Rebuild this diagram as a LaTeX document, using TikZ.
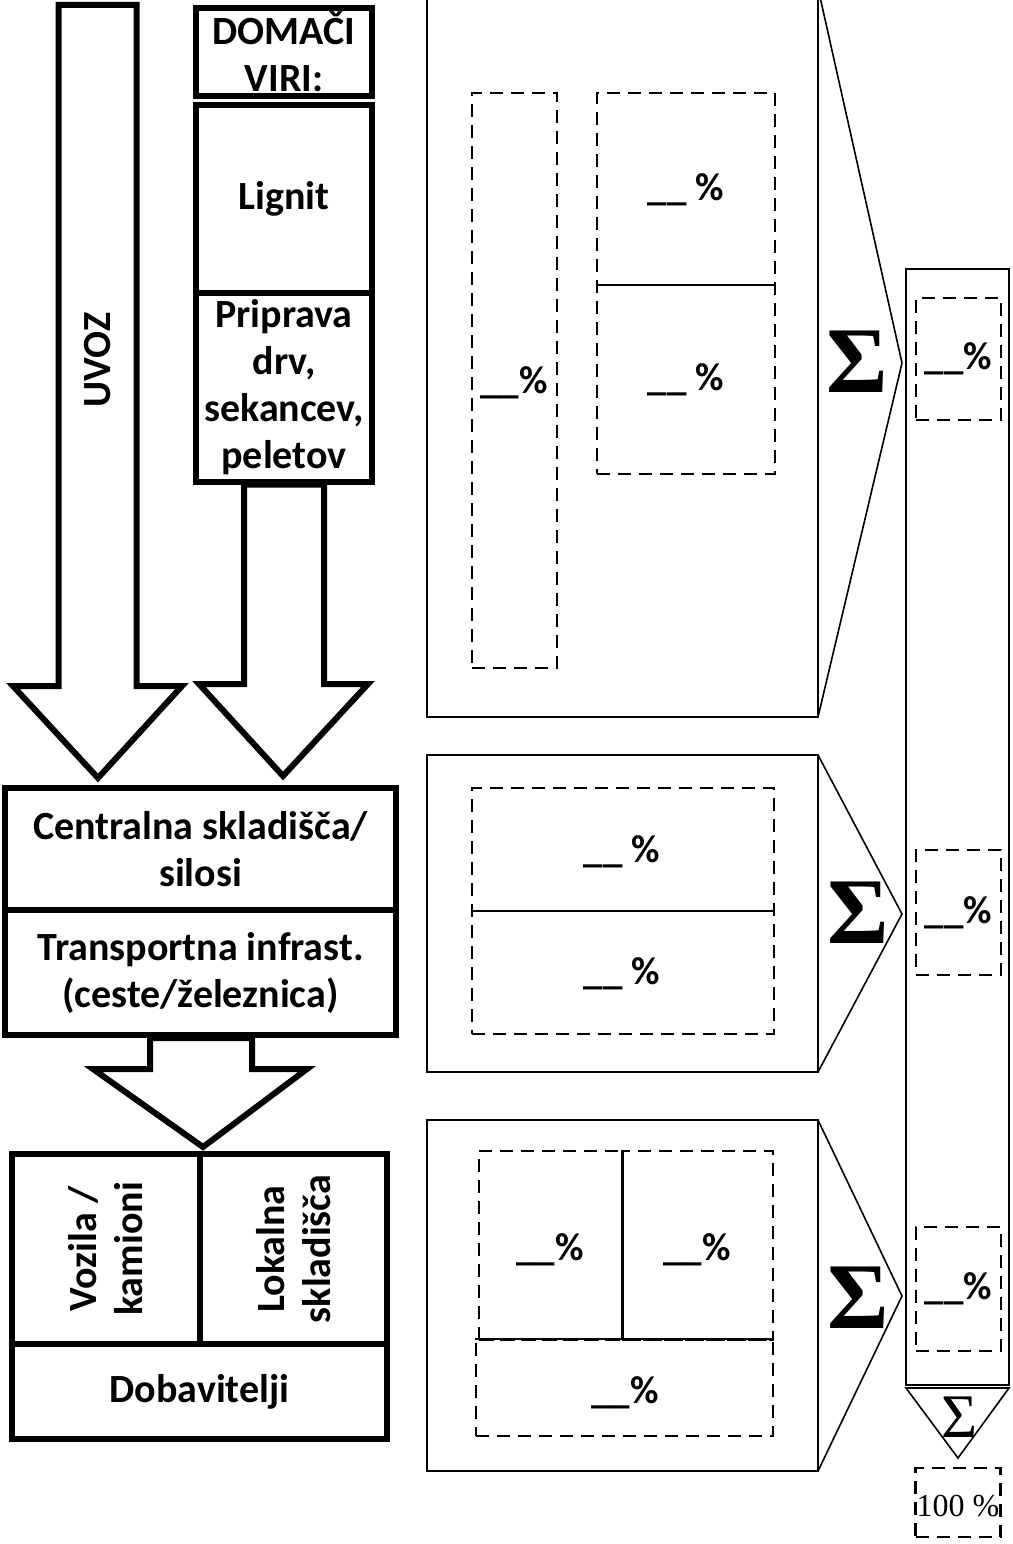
\documentclass[tikz,border=0pt]{standalone}
\usepackage{fontspec}
\setmainfont{Carlito}
\newfontfamily\sigmafont{Liberation Serif}
\usetikzlibrary{calc}
\begin{document}
\begin{tikzpicture}[x=1pt,y=-1pt,
  heavy/.style={draw,line width=6pt,inner sep=0pt,line join=miter,
    font=\fontsize{40}{47}\selectfont\bfseries,align=center},
  label40/.style={inner sep=0pt,font=\fontsize{40}{46}\selectfont\bfseries,align=center},
  blockarrow/.style={draw,line width=6pt,fill=white,line join=miter},
  panel/.style={draw,line width=1.6pt,line join=miter},
  dashbox/.style={draw,dash pattern=on 13pt off 8pt,line width=2.5pt,inner sep=0pt,
    font=\fontsize{39}{46}\selectfont\bfseries},
  divider/.style={draw,line width=2pt},
  pct/.style={inner sep=0pt,font=\fontsize{39}{46}\selectfont\bfseries},
  sig/.style={inner sep=0pt,font=\sigmafont\fontsize{94}{94}\selectfont\bfseries},
  sigsmall/.style={inner sep=0pt,font=\sigmafont\fontsize{62}{62}\selectfont},
  hundred/.style={inner sep=0pt,font=\sigmafont\fontsize{32}{32}\selectfont}
]
\useasboundingbox (0,0) rectangle (1012,1544);
\begin{scope}
\clip (0,0) rectangle (1012,1544);

% ---------- left chain: sources, storage, distribution ----------
\node[heavy,minimum width=176.5pt,minimum height=88pt] (dom) at (284,52) {DOMAČI\\VIRI:};
\node[heavy,minimum width=176.5pt,minimum height=188pt] (lig) at (284,199) {Lignit};
\node[heavy,minimum width=176.5pt,minimum height=188.5pt] (prip) at (284,387.25)
  {Priprava\\drv,\\sekancev,\\peletov};

\node[heavy,minimum width=391pt,minimum height=122pt] (cent) at (200.5,849)
  {Centralna skladišča/\\silosi};
\node[heavy,minimum width=391pt,minimum height=125pt] (trans) at (200.5,972.5)
  {Transportna infrast.\\(ceste/železnica)};

% import arrow (free tail at the top edge)
\coordinate (uvoztail) at (98,5);
\draw[blockarrow] ($(uvoztail)+(-39.5,0)$) -- ($(uvoztail)+(38.5,0)$)
  -- (136.5,686) -- (182,686) -- ($(cent.north -| uvoztail)+(0,-7)$)
  -- (13,686) -- (58.5,686) -- cycle;
\node[label40,rotate=90] (uvoz) at (98,360) {UVOZ};

% domestic arrow
\draw[blockarrow] (prip.south -| 244,0) -- (244,684) -- (199,684)
  -- ($(cent.north -| 283,0)+(0,-9)$) -- (368,684) -- (324,684)
  -- (prip.south -| 324,0) -- cycle;

% storage to local distribution arrow
\node[heavy,minimum width=188pt,minimum height=190pt] (voz) at (106,1249) {};
\node[heavy,minimum width=187pt,minimum height=190pt] (lok) at (293.5,1249) {};
\node[heavy,minimum width=375pt,minimum height=95pt] (dob) at (199.5,1391.5) {Dobavitelji};
\draw[blockarrow] (trans.south -| 150,0) -- (150,1069) -- (93,1069)
  -- ($(voz.north east)+(0,-4)$) -- (307,1069) -- (252,1069)
  -- (trans.south -| 252,0) -- cycle;
\node[label40,rotate=90] (vozt) at (voz.center) {Vozila /\\kamioni};
\node[label40,rotate=90] (lokt) at (lok.center) {Lokalna\\skladišča};

% ---------- right: share panels ----------
% panel 1
\draw[panel] (818,-12) -- (427,-12) -- (427,717) -- (818,717) -- cycle;
\coordinate (tip1) at (902,363);
\draw[panel] (818,-12) -- (tip1) -- (818,717);
\node[sig] (s1) at (857,362) {Σ};
\node[dashbox,minimum width=85pt,minimum height=575pt] (p1a) at (514.5,380.5) {};
\node[pct] (p1at) at (514,383) {\_\_\%};
\node[dashbox,minimum width=178pt,minimum height=381pt] (p1b) at (686,283.5) {};
\draw[divider] ($(p1b.west)+(0,1)$) -- ($(p1b.east)+(0,1)$);
\node[pct] (p1bt) at (686,190) {\_\_ \%};
\node[pct] (p1ct) at (686,380) {\_\_ \%};

% panel 2
\draw[panel] (427,755) rectangle (818,1072);
\coordinate (tip2) at (902,914);
\draw[panel] (818,755) -- (tip2) -- (818,1072);
\node[sig] (s2) at (858,913) {Σ};
\node[dashbox,minimum width=302pt,minimum height=246pt] (p2) at (623,911) {};
\draw[divider] (p2.west) -- (p2.east);
\node[pct] (p2at) at (622,852) {\_\_ \%};
\node[pct] (p2bt) at (622,974) {\_\_ \%};

% panel 3
\draw[panel] (427,1120) rectangle (818,1471);
\coordinate (tip3) at (902,1296);
\draw[panel] (818,1120) -- (tip3) -- (818,1471);
\node[sig] (s3) at (858,1298) {Σ};
\node[dashbox,minimum width=143pt,minimum height=189pt] (p3a) at (550.5,1245.5) {};
\node[dashbox,minimum width=151pt,minimum height=189pt] (p3b) at (697.5,1245.5) {};
\node[dashbox,minimum width=297pt,minimum height=96pt] (p3c) at (624.5,1388) {};
\draw[divider] (p3a.north east) -- (p3a.south east);
\draw[divider] (p3c.north west) -- (p3c.north east);
\node[pct] (p3at) at (550,1250) {\_\_\%};
\node[pct] (p3bt) at (697,1250) {\_\_\%};
\node[pct] (p3ct) at (625,1393) {\_\_\%};

% ---------- summary column ----------
\draw[line width=2.5pt] (906,269) rectangle (1009,1385);
\node[dashbox,minimum width=85pt,minimum height=122pt] (c1) at (958.5,359) {\_\_\%};
\node[dashbox,minimum width=85pt,minimum height=125pt] (c2) at (958.5,912.5) {\_\_\%};
\node[dashbox,minimum width=85pt,minimum height=124pt] (c3) at (958.5,1289) {\_\_\%};
\draw[panel] (906,1388) -- (1009,1388) -- (958,1458) -- cycle;
\node[sigsmall] (s4) at (960,1417) {Σ};
\node[dashbox,minimum width=85pt,minimum height=69pt] (tot) at (958,1502.5) {};
\node[hundred] (tott) at (958,1506) {100 \%};
\end{scope}
\end{tikzpicture}
\end{document}
